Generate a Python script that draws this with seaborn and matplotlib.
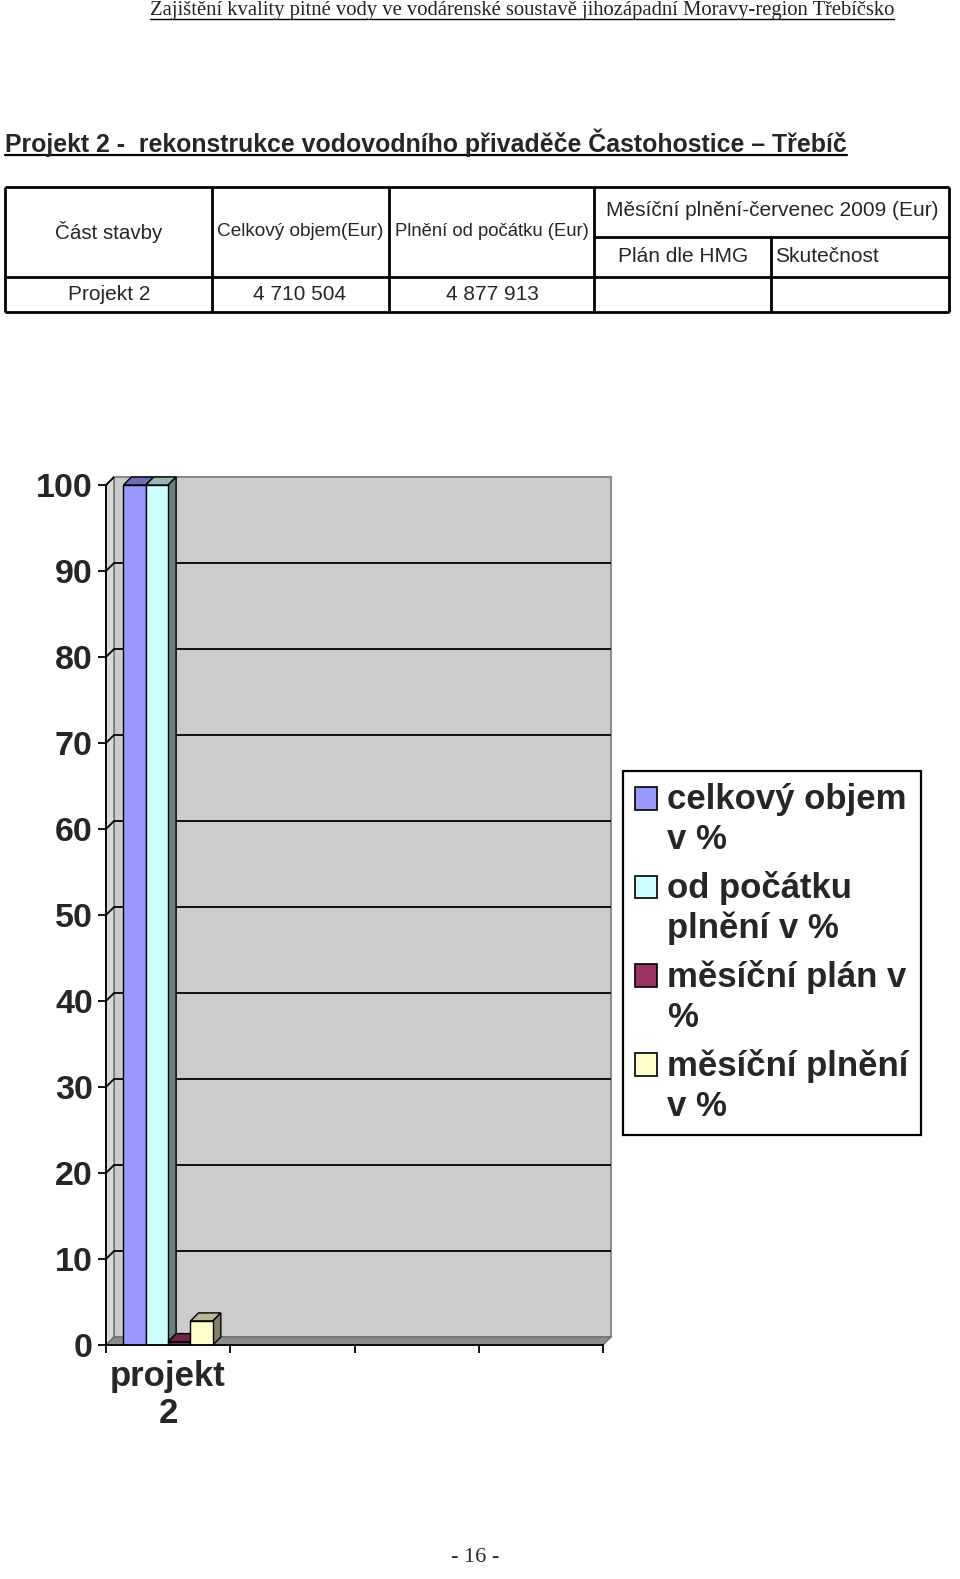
import matplotlib
matplotlib.use("Agg")
import matplotlib.pyplot as plt
import matplotlib.patches as mpatches
import matplotlib.transforms as mtransforms
from matplotlib.collections import LineCollection
from matplotlib.colors import to_rgb
from matplotlib.legend_handler import HandlerPatch
import pandas as pd
import seaborn as sns

# ── data ─────────────────────────────────────────────────────────────────────
categories = ["projekt\n2", "k2", "k3", "k4"]
category_labels = ["projekt\n2", "", "", ""]
series = ["celkový objem\nv %", "od počátku\nplnění v %",
          "měsíční plán v\n%", "měsíční plnění\nv %"]
values = [100, 100, 0.4, 2.8]
colors = ["#9999ff", "#ccffff", "#993366", "#ffffcc"]
yticks = list(range(0, 101, 10))

page_header = "Zajištění kvality pitné vody ve vodárenské soustavě jihozápadní Moravy-region Třebíčsko"
section_title = "Projekt 2 -  rekonstrukce vodovodního přivaděče Častohostice – Třebíč"
table_head = ["Část stavby", "Celkový objem(Eur)", "Plnění od počátku (Eur)"]
table_month_head = "Měsíční plnění-červenec 2009 (Eur)"
table_month_sub = ["Plán dle HMG", "Skutečnost"]
table_row = ["Projekt 2", "4 710 504", "4 877 913"]
page_no = "- 16 -"

sns.set_style("white")
plt.rcParams["font.family"] = ["Liberation Sans", "DejaVu Sans"]

W, H, DPI = 960, 1579, 100
fig = plt.figure(figsize=(W / DPI, H / DPI), dpi=DPI)

# page layer in pixel coordinates
page = fig.add_axes([0, 0, 1, 1])
page.set_xlim(0, W)
page.set_ylim(H, 0)
page.axis("off")

SERIF = ["Liberation Serif", "DejaVu Serif"]
hdr = page.text(522, 11, page_header, family=SERIF, fontsize=14.9,
                ha="center", va="center", color="#222222")
ttl = page.text(5, 143, section_title, fontsize=17.9, fontweight="bold",
                ha="left", va="center")
page.text(475, 1557, page_no, family=SERIF, fontsize=16, ha="center", va="center")

# ── table ────────────────────────────────────────────────────────────────────
col_x = [5, 212, 389, 594, 771, 949]
lw_t = 2
page.hlines([187, 277, 312], col_x[0], col_x[-1], color="black", lw=lw_t)
page.hlines(237, col_x[3], col_x[-1], color="black", lw=lw_t)
page.vlines([5, 212, 389, 594, 949], 187, 312, color="black", lw=lw_t)
page.vlines(771, 237, 312, color="black", lw=lw_t)

page.text(109, 232, table_head[0], fontsize=14.8, ha="center", va="center")
page.text(300, 232, table_head[1], fontsize=13.7, ha="center", va="center")
page.text(492, 232, table_head[2], fontsize=13.3, ha="center", va="center")
page.text(772, 211, table_month_head, fontsize=15, ha="center", va="center")
page.text(683, 257, table_month_sub[0], fontsize=15, ha="center", va="center")
page.text(775, 257, table_month_sub[1], fontsize=15, ha="left", va="center")
for cx, txt in zip([109, 300, 492], table_row):
    page.text(cx, 295, txt, fontsize=15, ha="center", va="center")

# ── chart ────────────────────────────────────────────────────────────────────
df = pd.DataFrame({"projekt": categories[0], "serie": series, "hodnota": values})
ax = fig.add_axes([106 / W, 1 - 1345 / H, 497 / W, 860 / H])
sns.barplot(data=df, x="projekt", y="hodnota", hue="serie", order=categories,
            hue_order=series, palette=colors, width=0.72, saturation=1,
            edgecolor="black", linewidth=1, errorbar=None, legend=False, ax=ax)
ax.set_xlim(-0.5, len(categories) - 0.5)
ax.set_ylim(0, 100)
ax.patch.set_visible(False)
ax.set_xlabel("")
ax.set_ylabel("")

ax.set_yticks(yticks)
ax.set_yticklabels([str(v) for v in yticks], fontsize=24.5, fontweight="bold")
ax.set_xticks(range(len(categories)))
ax.set_xticklabels(category_labels, fontsize=25, fontweight="bold", linespacing=1.15)
ax.set_xticks([i - 0.5 for i in range(len(categories) + 1)], minor=True)
ax.tick_params(axis="x", which="major", bottom=False, length=0, pad=11)
ax.tick_params(axis="x", which="minor", bottom=True, length=6, width=1.3,
               direction="out", color="black")
ax.tick_params(axis="y", left=True, length=5.5, width=1.3, direction="out",
               color="black", pad=4)
for side in ["top", "right"]:
    ax.spines[side].set_visible(False)
for side in ["left", "bottom"]:
    ax.spines[side].set_color("black")
    ax.spines[side].set_linewidth(1.3)
    ax.spines[side].set_zorder(10)

# pseudo 3D walls, grid and bar faces (display coordinates)
d = 8
ident = mtransforms.IdentityTransform()
(x0, y0), (x1, y1) = ax.transAxes.transform([(0, 0), (1, 1)])

def add_poly(pts, fc, ec, lw, z):
    p = mpatches.Polygon(pts, closed=True, transform=ident, facecolor=fc,
                         edgecolor=ec, linewidth=lw, zorder=z, clip_on=False)
    ax.add_artist(p)

add_poly([(x0 + d, y0 + d), (x1 + d, y0 + d), (x1 + d, y1 + d), (x0 + d, y1 + d)],
         "#cccccc", "#8c8c8c", 1.5, 0.5)
add_poly([(x0, y0), (x0 + d, y0 + d), (x0 + d, y1 + d), (x0, y1)],
         "#d9d9d9", "#6e6e6e", 1.0, 0.6)
add_poly([(x0, y0), (x1, y0), (x1 + d, y0 + d), (x0 + d, y0 + d)],
         "#8c8c8c", "#6e6e6e", 1.0, 0.6)

segs = []
for v in yticks[1:]:
    yv = ax.transData.transform((0, v))[1]
    if v < yticks[-1]:
        segs.append([(x0, yv), (x0 + d, yv + d), (x1 + d, yv + d)])
    else:
        segs.append([(x0, yv), (x0 + d, yv + d)])
ax.add_collection(LineCollection(segs, colors="black", linewidths=1.3,
                                 transform=ident, zorder=1, clip_on=False),
                  autolim=False)

def shade(c, k):
    r, g, b = to_rgb(c)
    return (r * k, g * k, b * k)

bars = [b for cont in ax.containers for b in cont]
for i, (bar, c) in enumerate(zip(bars, colors)):
    bx0, by0 = ax.transData.transform((bar.get_x(), 0))
    bx1, by1 = ax.transData.transform((bar.get_x() + bar.get_width(), bar.get_height()))
    bar.set_zorder(4 + 2 * i)
    add_poly([(bx0, by1), (bx1, by1), (bx1 + d, by1 + d), (bx0 + d, by1 + d)],
             shade(c, 0.72), "black", 1.0, 3 + 2 * i)
    add_poly([(bx1, by0), (bx1 + d, by0 + d), (bx1 + d, by1 + d), (bx1, by1)],
             shade(c, 0.5), "black", 1.0, 3 + 2 * i)

# legend: square key next to the first line of each two-line label
LEG_FS = 25
LEG_LS = 1.27

def top_key(legend, orig_handle, xdescent, ydescent, width, height, fontsize):
    shift = fontsize * LEG_LS / 2
    return mpatches.Rectangle((-xdescent, -ydescent + shift), width, height)

handles = [mpatches.Patch(facecolor=c, edgecolor="black", linewidth=1.2) for c in colors]
leg = ax.legend(handles, series, loc="upper left",
                bbox_to_anchor=(623 / W, 1 - 771 / H), bbox_transform=fig.transFigure,
                prop=dict(weight="bold", size=LEG_FS), frameon=True, fancybox=False,
                edgecolor="black", framealpha=1, handlelength=0.62, handleheight=0.62,
                handletextpad=0.3, labelspacing=0.42, borderpad=0.35, borderaxespad=0,
                handler_map={mpatches.Patch: HandlerPatch(patch_func=top_key)})
leg.get_frame().set_linewidth(1.6)
leg.set_zorder(20)
for t in leg.get_texts():
    t.set_linespacing(LEG_LS)

# underline the two headings
fig.canvas.draw()
rend = fig.canvas.get_renderer()
inv = page.transData.inverted()
for t, lw in [(hdr, 1.0), (ttl, 1.6)]:
    bb = t.get_window_extent(rend)
    (ux0, uy), (ux1, _) = inv.transform([(bb.x0, bb.y0 + 2), (bb.x1, bb.y0 + 2)])
    page.plot([ux0, ux1], [uy, uy], color="black", lw=lw)

fig.savefig("out.png", dpi=DPI)
